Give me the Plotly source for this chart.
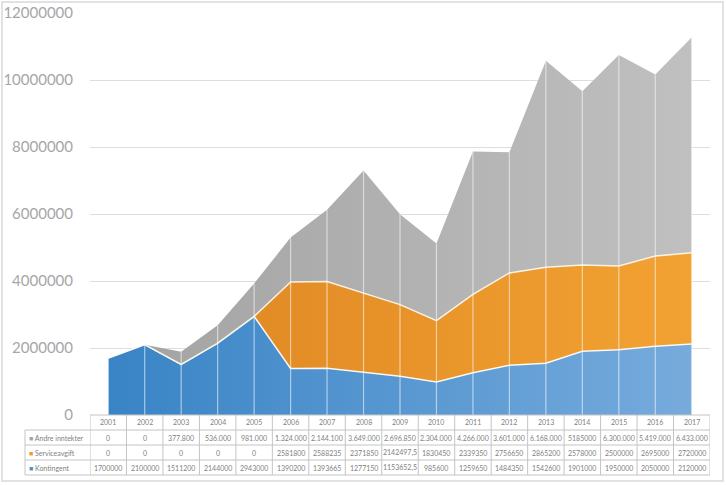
import plotly.graph_objects as go

years = list(range(2001, 2018))
kontingent = [1700000, 2100000, 1511200, 2144000, 2943000, 1390200, 1393665, 1277150, 1153652.5,
              985600, 1259650, 1484350, 1542600, 1901000, 1950000, 2050000, 2120000]
serviceavgift = [0, 0, 0, 0, 0, 2581800, 2588235, 2371850, 2142497.5, 1830450, 2339350,
                 2756650, 2865200, 2578000, 2500000, 2695000, 2720000]
andre = [0, 0, 377800, 536000, 981000, 1324000, 2144100, 3649000, 2696850, 2304000, 4266000,
         3601000, 6168000, 5185000, 6300000, 5419000, 6433000]

# display strings as printed in the data table
andre_txt = ["0", "0", "377.800", "536.000", "981.000", "1.324.000", "2.144.100", "3.649.000",
             "2.696.850", "2.304.000", "4.266.000", "3.601.000", "6.168.000", "5185000",
             "6.300.000", "5.419.000", "6.433.000"]
service_txt = ["0", "0", "0", "0", "0", "2581800", "2588235", "2371850", "2142497,5", "1830450",
               "2339350", "2756650", "2865200", "2578000", "2500000", "2695000", "2720000"]
kont_txt = ["1700000", "2100000", "1511200", "2144000", "2943000", "1390200", "1393665",
            "1277150", "1153652,5", "985600", "1259650", "1484350", "1542600", "1901000",
            "1950000", "2050000", "2120000"]

series_names = ["Andre inntekter", "Serviceavgift", "Kontingent"]
marker_cols = ["#a5a5a5", "#ed9b2f", "#4a90cf"]

ytick_vals = [0, 2000000, 4000000, 6000000, 8000000, 10000000, 12000000]

W, H = 726, 485
L, R, T, B = 90, 16, 13, 70
pw, ph = W - L - R, H - T - B

def px(p):   # pixel x -> paper
    return (p - L) / pw

def py(p):   # pixel y -> paper
    return (H - B - p) / ph

fig = go.Figure()

fig.add_trace(go.Scatter(
    x=years, y=kontingent, stackgroup="one", mode="lines",
    line=dict(color="rgba(255,255,255,0.9)", width=1.5),
    fillgradient=dict(type="horizontal", colorscale=[[0, "#3984c6"], [1, "#77abdc"]]),
    name="Kontingent", hoverinfo="skip"))
fig.add_trace(go.Scatter(
    x=years, y=serviceavgift, stackgroup="one", mode="lines",
    line=dict(color="rgba(255,248,235,0.9)", width=1.5),
    fillgradient=dict(type="horizontal", colorscale=[[0, "#dc8421"], [1, "#f2a232"]]),
    name="Serviceavgift", hoverinfo="skip"))
fig.add_trace(go.Scatter(
    x=years, y=andre, stackgroup="one", mode="lines",
    line=dict(color="rgba(0,0,0,0)", width=0),
    fillgradient=dict(type="horizontal", colorscale=[[0, "#a2a2a2"], [1, "#c0c0c0"]]),
    name="Andre inntekter", hoverinfo="skip"))

# drop lines
totals = [a + b + c for a, b, c in zip(kontingent, serviceavgift, andre)]
dx, dy = [], []
for yr, tot in zip(years, totals):
    dx += [yr, yr, None]
    dy += [0, tot, None]
fig.add_trace(go.Scatter(x=dx, y=dy, mode="lines",
                         line=dict(color="rgba(255,255,255,0.55)", width=1.2),
                         hoverinfo="skip", showlegend=False))

shapes = []
grid_col = "#c4c4c4"
# table rows
row_px = [415, 430, 445, 460, 475]
for i, rp in enumerate(row_px):
    x0 = px(25) if i >= 1 else 0
    shapes.append(dict(type="line", xref="paper", yref="paper", x0=x0, x1=1,
                       y0=py(rp), y1=py(rp), line=dict(color=grid_col, width=1)))
# column lines
for k in range(len(years) + 1):
    xv = years[0] - 0.5 + k
    shapes.append(dict(type="line", xref="x", yref="paper", x0=xv, x1=xv,
                       y0=py(415), y1=py(475), line=dict(color=grid_col, width=1)))
shapes.append(dict(type="line", xref="paper", yref="paper", x0=px(25), x1=px(25),
                   y0=py(430), y1=py(475), line=dict(color=grid_col, width=1)))
# outer frame
shapes.append(dict(type="rect", xref="paper", yref="paper", x0=px(2), x1=px(723),
                   y0=py(481), y1=py(2), line=dict(color="#d9d9d9", width=1.5), layer="below"))

annotations = []
tfont = dict(family="Lato, Liberation Sans, sans-serif", size=7, color="#7f7f7f")
row_centers = [422.5, 437.5, 452.5, 467.5]
for yr in years:
    annotations.append(dict(x=yr, y=py(row_centers[0]), xref="x", yref="paper", text=str(yr),
                            showarrow=False, font=tfont, xanchor="center", yanchor="middle"))
for r, txts in enumerate([andre_txt, service_txt, kont_txt]):
    for yr, t in zip(years, txts):
        annotations.append(dict(x=yr, y=py(row_centers[r + 1]), xref="x", yref="paper", text=t,
                                showarrow=False, font=tfont, xanchor="center", yanchor="middle"))
    annotations.append(dict(x=px(27), y=py(row_centers[r + 1]), xref="paper", yref="paper",
                            text='<span style="color:%s">■</span> %s' % (marker_cols[r], series_names[r]),
                            showarrow=False, font=tfont, xanchor="left", yanchor="middle"))

fig.update_layout(
    width=W, height=H,
    margin=dict(l=L, r=R, t=T, b=B, autoexpand=False),
    paper_bgcolor="white", plot_bgcolor="white",
    showlegend=False,
    shapes=shapes, annotations=annotations,
    xaxis=dict(range=[years[0] - 0.5, years[-1] + 0.5], showticklabels=False,
               showgrid=False, zeroline=False, showline=False, fixedrange=True),
    yaxis=dict(range=[0, 12000000], tickvals=ytick_vals,
               ticktext=[str(v) for v in ytick_vals],
               showgrid=True, gridcolor="#dedede", gridwidth=1, zeroline=False,
               ticklabelstandoff=16,
               tickfont=dict(family="Lato, Liberation Sans, sans-serif", size=15, color="#a6a6a6")),
)

fig.write_html("out.html", config={"displayModeBar": False},
               post_script="document.body.style.margin='0';document.body.style.overflow='hidden';")
